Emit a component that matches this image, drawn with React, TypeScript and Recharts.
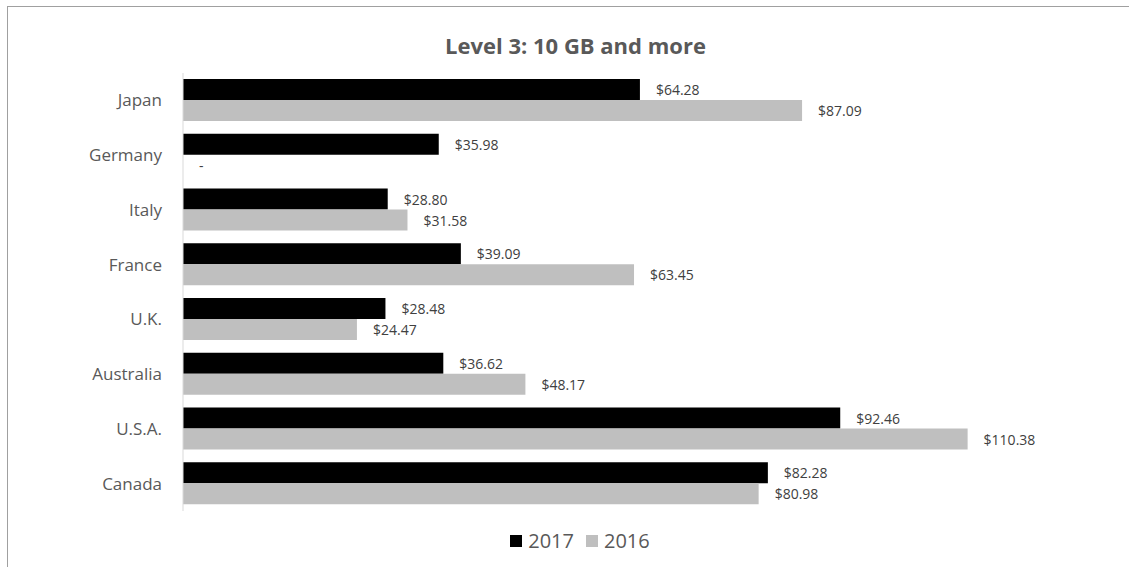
import { BarChart, Bar, XAxis, YAxis, Legend, LabelList } from 'recharts'

const countries = ['Japan', 'Germany', 'Italy', 'France', 'U.K.', 'Australia', 'U.S.A.', 'Canada']
const prices2017 = [64.28, 35.98, 28.8, 39.09, 28.48, 36.62, 92.46, 82.28]
const prices2016 = [87.09, 0, 31.58, 63.45, 24.47, 48.17, 110.38, 80.98]
const seriesNames = ['2017', '2016']

const data = countries.map((country, i) => ({
  country,
  y2017: prices2017[i],
  y2016: prices2016[i],
}))

const FONT = '"Open Sans", sans-serif'
const TEXT = '#595959'

const money = (v: any) => (Number(v) === 0 ? '-' : `$${Number(v).toFixed(2)}`)

function labelText(x: number, y: number, key: string, value: any) {
  return (
    <text key={key} x={x} y={y} dominantBaseline="central" fill="#404040" fontSize={14} fontFamily={FONT}>
      {money(value)}
    </text>
  )
}

// 2017 label; recharts skips zero-length bars, so the empty 2016 bar ("-") is drawn here too
function Label2017(props: any) {
  const { x, y, width, height, value, index } = props
  const bx = Number(x)
  const by = Number(y)
  const h = Number(height)
  return (
    <g>
      {labelText(bx + Number(width) + 16, by + h / 2, 'a', value)}
      {prices2016[index] === 0 ? labelText(bx + 16, by + h * 1.5, 'b', 0) : null}
    </g>
  )
}

function Label2016(props: any) {
  const { x, y, width, height, value } = props
  if (!value) return null
  return labelText(Number(x) + Number(width) + 16, Number(y) + Number(height) / 2, 'c', value)
}

function LegendBox() {
  const items = [
    { name: seriesNames[0], color: '#000000' },
    { name: seriesNames[1], color: '#bfbfbf' },
  ]
  return (
    <div style={{ display: 'flex', justifyContent: 'center', gap: 12, fontFamily: FONT, fontSize: 20, color: TEXT }}>
      {items.map((it) => (
        <div key={it.name} style={{ display: 'flex', alignItems: 'center' }}>
          <span style={{ width: 12, height: 12, background: it.color, display: 'inline-block', marginRight: 6 }} />
          <span>{it.name}</span>
        </div>
      ))}
    </div>
  )
}

export default function App() {
  return (
    <div style={{ position: 'absolute', left: 0, top: 0, width: 1129, height: 567, overflow: 'hidden', background: '#fff' }}>
      <div
        style={{
          position: 'absolute',
          left: 7,
          top: 6,
          width: 1200,
          height: 700,
          borderLeft: '1px solid #a0a0a0',
          borderTop: '1px solid #a0a0a0',
        }}
      />
      <div
        style={{
          position: 'absolute',
          top: 30,
          left: 0,
          width: 1151,
          textAlign: 'center',
          fontFamily: FONT,
          fontWeight: 700,
          fontSize: 22,
          color: TEXT,
        }}
      >
        Level 3: 10 GB and more
      </div>
      <div style={{ position: 'absolute', left: 0, top: 0 }}>
        <BarChart
          width={1129}
          height={567}
          data={data}
          layout="vertical"
          margin={{ top: 73, right: 93, bottom: 56, left: 8 }}
          barCategoryGap="11%"
          barGap={0}
        >
          <XAxis type="number" domain={[0, 120]} hide />
          <YAxis
            type="category"
            dataKey="country"
            width={175}
            axisLine={{ stroke: '#d9d9d9' }}
            tickLine={false}
            tickMargin={15}
            tick={{ fill: TEXT, fontSize: 17, fontFamily: FONT }}
          />
          <Legend
            layout="horizontal"
            verticalAlign="middle"
            align="center"
            wrapperStyle={{ top: 527, left: 0, width: 1160 }}
            content={() => <LegendBox />}
          />
          <Bar dataKey="y2017" name={seriesNames[0]} fill="#000000" isAnimationActive={false}>
            <LabelList dataKey="y2017" content={Label2017} />
          </Bar>
          <Bar dataKey="y2016" name={seriesNames[1]} fill="#bfbfbf" isAnimationActive={false}>
            <LabelList dataKey="y2016" content={Label2016} />
          </Bar>
        </BarChart>
      </div>
    </div>
  )
}
